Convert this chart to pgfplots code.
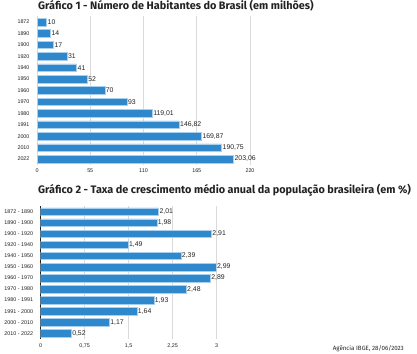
\documentclass[border=0pt]{standalone}
\usepackage{pgfplots}
\pgfplotsset{compat=1.18}
\usepackage{fontspec}
\setmainfont{Liberation Sans}
\newfontfamily\titlefont{Fira Sans}
\definecolor{barblue}{HTML}{2F88CC}
\definecolor{baredge}{HTML}{A8CFEE}
\definecolor{gridgray}{HTML}{DADADA}
\definecolor{txt}{HTML}{222222}
\pgfplotsset{
  mybars/.style={
    xbar, scale only axis,
    axis y line*=left, axis x line*=bottom,
    x axis line style={draw=none},
    major tick length=0pt,
    xmajorgrids, grid style={gridgray, line width=0.7pt},
    bar width=7.6bp,
    tick label style={font=\fontsize{5.4}{6}\selectfont, color=txt},
    yticklabel style={xshift=-4bp},
    xticklabel style={yshift=-1bp},
    nodes near coords,
    nodes near coords align={horizontal},
    every node near coord/.append style={font=\fontsize{6.9}{7}\selectfont, color=txt, anchor=west, inner sep=0.8pt},
    /pgf/number format/use comma,
    /pgf/number format/precision=2,
    /pgf/number format/1000 sep={},
    /pgf/number format/assume math mode=true,
  },
}
\begin{document}
\begin{tikzpicture}
\useasboundingbox (0,0) rectangle (417bp,-354bp);
\node[anchor=west, inner sep=0, font=\titlefont\bfseries\fontsize{10.9}{12}\selectfont, color=txt] at (38bp,-6bp) {Gráfico 1 - Número de Habitantes do Brasil (em milhões)};
\begin{axis}[mybars,
  at={(37bp,-164.7bp)}, anchor=south west,
  width=213bp, height=148.4bp,
  xmin=0, xmax=220, ymin=-0.5, ymax=12.5,
  y axis line style={draw=gridgray, line width=0.7pt},
  xtick={0,55,110,165,220},
  ytick={0,...,12},
  yticklabels={2022,2010,2000,1991,1980,1970,1960,1950,1940,1920,1900,1890,1872},
]
\addplot[fill=barblue, draw=baredge, line width=0.5pt] coordinates {
(10,12) (14,11) (17,10) (31,9) (41,8) (52,7) (70,6) (93,5) (119.01,4) (146.82,3) (169.87,2) (190.75,1) (203.06,0)};
\end{axis}
\node[anchor=west, inner sep=0, font=\titlefont\bfseries\fontsize{10.9}{12}\selectfont, color=txt] at (38bp,-190bp) {Gráfico 2 - Taxa de crescimento médio anual da população brasileira (em \%)};
\begin{axis}[mybars,
  at={(40.7bp,-338.8bp)}, anchor=south west,
  width=176bp, height=132.6bp,
  xmin=0, xmax=3, ymin=-0.5, ymax=11.5,
  y axis line style={draw=txt, line width=0.8pt},
  xtick={0,0.75,1.5,2.25,3},
  ytick={0,...,11},
  yticklabels={2010 - 2022,2000 - 2010,1991 - 2000,1980 - 1991,1970 - 1980,1960 - 1970,1950 - 1960,1940 - 1950,1920 - 1940,1900 - 1920,1890 - 1900,1872 - 1890},
]
\addplot[fill=barblue, draw=baredge, line width=0.5pt] coordinates {
(2.01,11) (1.98,10) (2.91,9) (1.49,8) (2.39,7) (2.99,6) (2.89,5) (2.48,4) (1.93,3) (1.64,2) (1.17,1) (0.52,0)};
\end{axis}
\node[anchor=east, inner sep=0, font=\titlefont\fontsize{6.2}{7}\selectfont, color=txt] at (404bp,-349bp) {Agência IBGE, 28/06/2023};
\end{tikzpicture}
\end{document}
